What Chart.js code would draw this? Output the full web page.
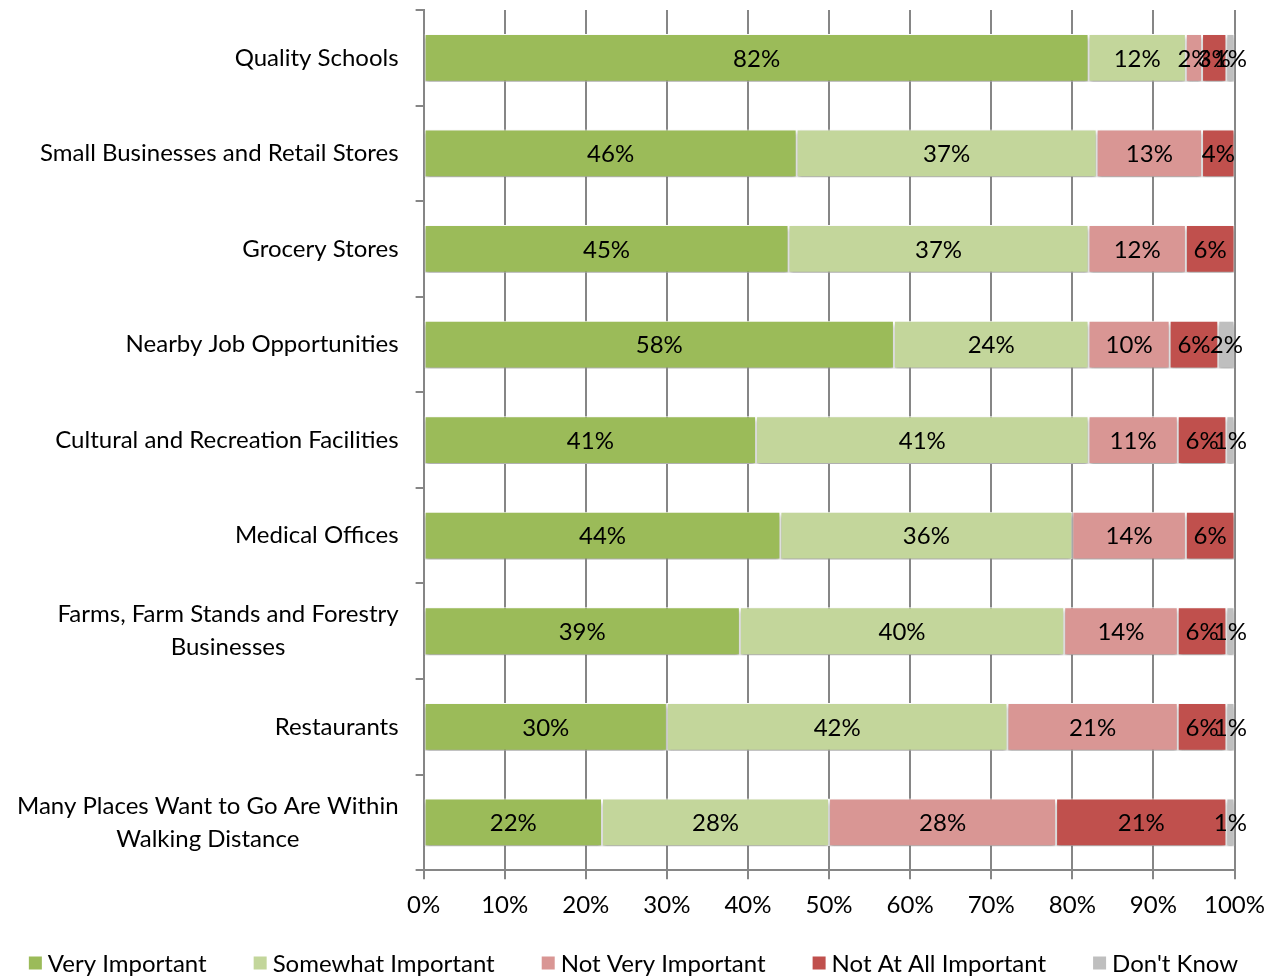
<!DOCTYPE html>
<html>
<head>
<meta charset="utf-8">
<script src="https://cdn.jsdelivr.net/npm/chart.js@4/dist/chart.umd.min.js"></script>
<style>
  body { margin: 0; background: #fff; }
  #wrap { width: 1277px; height: 978px; }
</style>
</head>
<body>
<div id="wrap"><canvas id="importanceChart" width="1277" height="978"></canvas></div>
<script>
// Categories (multi-line labels as arrays)
const categories = [
    ['Quality Schools'],
    ['Small Businesses and Retail Stores'],
    ['Grocery Stores'],
    ['Nearby Job Opportunities'],
    ['Cultural and Recreation Facilities'],
    ['Medical Offices'],
    ['Farms, Farm Stands and Forestry', 'Businesses'],
    ['Restaurants'],
    ['Many Places Want to Go Are Within', 'Walking Distance']
];

const seriesNames = ['Very Important', 'Somewhat Important', 'Not Very Important', 'Not At All Important', "Don't Know"];

const veryImportant     = [82, 46, 45, 58, 41, 44, 39, 30, 22];
const somewhatImportant = [12, 37, 37, 24, 41, 36, 40, 42, 28];
const notVeryImportant  = [2, 13, 12, 10, 11, 14, 14, 21, 28];
const notAtAllImportant = [3, 4, 6, 6, 6, 6, 6, 6, 21];
const dontKnow          = [1, 0, 0, 2, 1, 0, 1, 1, 1];

const xTicks = [0, 10, 20, 30, 40, 50, 60, 70, 80, 90, 100];

const seriesColors = ['#9BBB59', '#C3D69B', '#D99694', '#C0504D', '#BFBFBF'];
const FONT = 'Lato, "Open Sans", sans-serif';
const FONT_SIZE = 24;

/**
 * Soft shadow under the bars
 */
const barShadow = {
    id: 'barShadow',
    beforeDatasetsDraw(chart) {
        const ctx = chart.ctx;
        ctx.save();
        ctx.shadowColor = 'rgba(0, 0, 0, 0.35)';
        ctx.shadowBlur = 4;
        ctx.shadowOffsetY = 3;
    },
    afterDatasetsDraw(chart) {
        chart.ctx.restore();
    }
};

/**
 * Value labels in the middle of each segment
 */
const segmentLabels = {
    id: 'segmentLabels',
    afterDatasetsDraw(chart) {
        const ctx = chart.ctx;
        ctx.save();
        ctx.font = FONT_SIZE + 'px ' + FONT;
        ctx.fillStyle = '#000';
        ctx.textAlign = 'center';
        ctx.textBaseline = 'middle';
        chart.data.datasets.forEach((ds, i) => {
            const meta = chart.getDatasetMeta(i);
            meta.data.forEach((bar, j) => {
                const v = ds.data[j];
                if (!v) return;
                const p = bar.getCenterPoint();
                ctx.fillText(v + '%', p.x, p.y + 1);
            });
        });
        ctx.restore();
    }
};

/**
 * Category labels: right aligned block, lines centred inside it
 */
const categoryLabels = {
    id: 'categoryLabels',
    afterDraw(chart) {
        const ctx = chart.ctx;
        const yScale = chart.scales.y;
        const right = yScale.right - 25;
        const lineH = 33;
        ctx.save();
        ctx.font = FONT_SIZE + 'px ' + FONT;
        ctx.fillStyle = '#000';
        ctx.textAlign = 'center';
        ctx.textBaseline = 'middle';
        categories.forEach((lines, i) => {
            const y = yScale.getPixelForValue(i);
            const widest = Math.max(...lines.map(l => ctx.measureText(l).width));
            const cx = right - widest / 2;
            const top = y - (lines.length - 1) * lineH / 2;
            lines.forEach((l, k) => ctx.fillText(l, cx, top + k * lineH));
        });
        ctx.restore();
    }
};

/**
 * Legend row along the bottom (square swatch + name)
 */
const bottomLegend = {
    id: 'bottomLegend',
    afterDraw(chart) {
        const ctx = chart.ctx;
        const box = 13, gap = 6, spacing = 47;
        const y = chart.height - 15;
        ctx.save();
        ctx.font = FONT_SIZE + 'px ' + FONT;
        ctx.textBaseline = 'middle';
        ctx.textAlign = 'left';
        const items = chart.data.datasets.map(ds => ({
            text: ds.label,
            color: ds.backgroundColor,
            w: box + gap + ctx.measureText(ds.label).width
        }));
        const total = items.reduce((s, it) => s + it.w, 0) + spacing * (items.length - 1);
        let x = chart.width / 2 - 5 - total / 2;
        items.forEach(it => {
            ctx.fillStyle = it.color;
            ctx.fillRect(x, y - box / 2, box, box);
            ctx.fillStyle = '#000';
            ctx.fillText(it.text, x + box + gap, y + 1);
            x += it.w + spacing;
        });
        ctx.restore();
    }
};

// longest line of a category, used only to reserve the axis width
function widestLine(lines) {
    return lines.reduce((a, b) => (b.length > a.length ? b : a), '');
}

document.addEventListener('DOMContentLoaded', function() {
    const ctx = document.getElementById('importanceChart').getContext('2d');
    const dataSeries = [veryImportant, somewhatImportant, notVeryImportant, notAtAllImportant, dontKnow];

    new Chart(ctx, {
        type: 'bar',
        data: {
            labels: categories,
            datasets: dataSeries.map((d, i) => ({
                label: seriesNames[i],
                data: d,
                backgroundColor: seriesColors[i],
                borderColor: '#FFFFFF',
                borderWidth: 1,
                borderSkipped: false,
                barPercentage: 0.5,
                categoryPercentage: 1
            }))
        },
        options: {
            indexAxis: 'y',
            responsive: false,
            animation: false,
            layout: { padding: { top: 10, right: 34, left: 1, bottom: 46 } },
            scales: {
                x: {
                    stacked: true,
                    min: 0,
                    max: 100,
                    afterBuildTicks: axis => { axis.ticks = xTicks.map(v => ({ value: v })); },
                    ticks: {
                        callback: v => v + '%',
                        color: '#000',
                        font: { family: FONT, size: FONT_SIZE },
                        padding: 12,
                        maxRotation: 0
                    },
                    grid: { color: '#868686', lineWidth: 2, tickLength: 9 },
                    border: { color: '#868686', width: 2 }
                },
                y: {
                    stacked: true,
                    ticks: {
                        callback: (v, i) => widestLine(categories[i]),
                        color: 'rgba(0,0,0,0)',
                        font: { family: FONT, size: FONT_SIZE },
                        padding: 0
                    },
                    afterFit: s => {
                        s.width += 33;
                        s.paddingTop = 0;
                        s.paddingBottom = 0;
                    },
                    grid: { display: true, drawOnChartArea: false, offset: true, color: '#868686', lineWidth: 2, tickLength: 8 },
                    border: { color: '#868686', width: 2 }
                }
            },
            plugins: {
                legend: { display: false },
                tooltip: { enabled: false }
            }
        },
        plugins: [barShadow, segmentLabels, categoryLabels, bottomLegend]
    });
});
</script>
</body>
</html>
